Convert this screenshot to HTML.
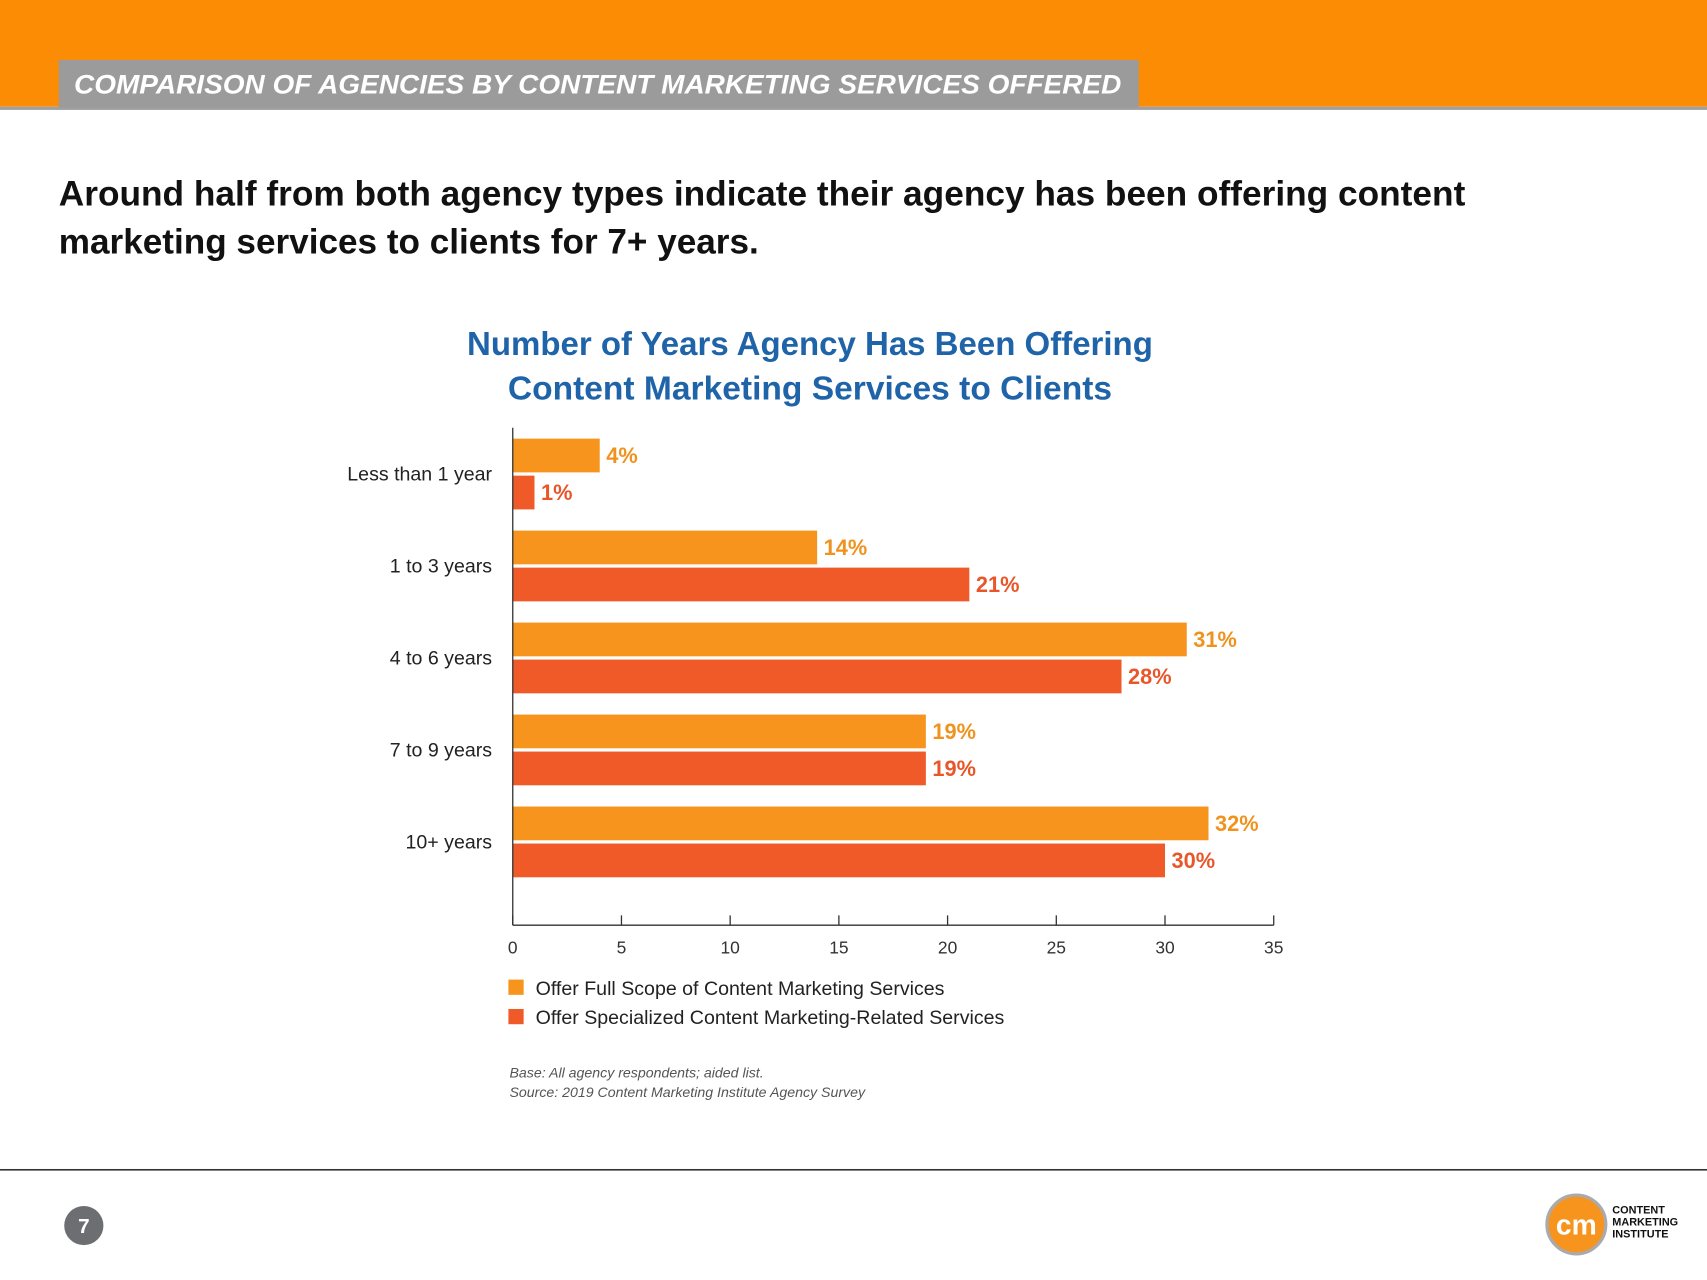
<!DOCTYPE html>
<html><head><meta charset="utf-8">
<style>
html,body{margin:0;padding:0;background:#fff;width:1707px;height:1280px;overflow:hidden}
svg{display:block}
text{font-family:"Liberation Sans",sans-serif}
</style></head>
<body>
<svg id="chart" width="1707" height="1280" viewBox="0 0 1568 1176" preserveAspectRatio="none" xmlns="http://www.w3.org/2000/svg">
  <rect x="0" y="0" width="1568" height="98" fill="#fd8c05"/>
  <rect x="0" y="98" width="1568" height="3" fill="#a0a0a0"/>
  <rect x="54" y="55" width="992" height="44" fill="#9b9b9b"/>
  <text x="68" y="86" fill="#fff" font-size="25" font-weight="bold" font-style="italic" textLength="962" lengthAdjust="spacingAndGlyphs">COMPARISON OF AGENCIES BY CONTENT MARKETING SERVICES OFFERED</text>
  <text x="54" y="189" font-size="32" font-weight="bold" fill="#111" textLength="1292" lengthAdjust="spacingAndGlyphs">Around half from both agency types indicate their agency has been offering content</text>
  <text x="54" y="233" font-size="32" font-weight="bold" fill="#111" textLength="643" lengthAdjust="spacingAndGlyphs">marketing services to clients for 7+ years.</text>
  <text x="744" y="326" text-anchor="middle" font-size="31" font-weight="bold" fill="#1f64a8" textLength="630" lengthAdjust="spacingAndGlyphs">Number of Years Agency Has Been Offering</text>
  <text x="744" y="367" text-anchor="middle" font-size="31" font-weight="bold" fill="#1f64a8" textLength="555" lengthAdjust="spacingAndGlyphs">Content Marketing Services to Clients</text>
  <g id="plot"></g>
  <rect x="467" y="900" width="14" height="14" fill="#f7941d"/>
  <text x="492" y="914" font-size="18" fill="#222">Offer Full Scope of Content Marketing Services</text>
  <rect x="467" y="927" width="14" height="14" fill="#f05a28"/>
  <text x="492" y="941" font-size="18" fill="#222">Offer Specialized Content Marketing-Related Services</text>
  <text x="468" y="990" font-size="13" font-style="italic" fill="#555">Base: All agency respondents; aided list.</text>
  <text x="468" y="1008" font-size="13" font-style="italic" fill="#555">Source: 2019 Content Marketing Institute Agency Survey</text>
  <rect x="0" y="1074" width="1568" height="1.5" fill="#333"/>
  <circle cx="77" cy="1126" r="18" fill="#6d6e71"/>
  <text x="77" y="1133" text-anchor="middle" font-size="19" font-weight="bold" fill="#fff">7</text>
  <g>
    <circle cx="1448" cy="1125" r="27" fill="#f7941d" stroke="#aaa" stroke-width="3"/>
    <text x="1448" y="1134" text-anchor="middle" font-size="26" font-weight="bold" fill="#fff">cm</text>
    <text x="1481" y="1115" font-size="10" font-weight="bold" fill="#111">CONTENT</text>
    <text x="1481" y="1126" font-size="10" font-weight="bold" fill="#111">MARKETING</text>
    <text x="1481" y="1137" font-size="10" font-weight="bold" fill="#111">INSTITUTE</text>
  </g>
</svg>
<script>
const categories = ["Less than 1 year","1 to 3 years","4 to 6 years","7 to 9 years","10+ years"];
const fullScope = [4,14,31,19,32];
const specialized = [1,21,28,19,30];
const ticks = [0,5,10,15,20,25,30,35];

const NS="http://www.w3.org/2000/svg";
const plot=document.getElementById('plot');
const X0=471, X1=1170, XMAX=35, AX_TOP=393, AX_BOT=850;
const GROUP_TOP=403, GROUP_STEP=84.5, BAR_H=31, GAP=3;
const xs=v=>X0+(v/XMAX)*(X1-X0);
function mk(tag,attrs){const e=document.createElementNS(NS,tag);for(const k in attrs)e.setAttribute(k,attrs[k]);plot.appendChild(e);return e;}

categories.forEach((c,i)=>{
  const top=GROUP_TOP+i*GROUP_STEP;
  const b1=mk('rect',{x:X0,y:top,width:xs(fullScope[i])-X0,height:BAR_H,fill:'#f7941d'});
  
  
  const b2=mk('rect',{x:X0,y:top+BAR_H+GAP,width:xs(specialized[i])-X0,height:BAR_H,fill:'#f05a28'});
  
  
  const l1=mk('text',{x:xs(fullScope[i])+6,y:top+BAR_H/2+7,'font-size':20,'font-weight':'bold',fill:'#f0921e'});
  l1.textContent=fullScope[i]+'%';
  
  
  const l2=mk('text',{x:xs(specialized[i])+6,y:top+BAR_H+GAP+BAR_H/2+7,'font-size':20,'font-weight':'bold',fill:'#e8562a'});
  l2.textContent=specialized[i]+'%';
  
  
  const cl=mk('text',{x:452,y:top+BAR_H+GAP/2+6,'text-anchor':'end','font-size':18,fill:'#222'});
  cl.textContent=c;
  
  
});
const ya=mk('line',{x1:X0,y1:AX_TOP,x2:X0,y2:AX_BOT,stroke:'#333','stroke-width':1.2});


const xa=mk('line',{x1:X0,y1:AX_BOT,x2:X1,y2:AX_BOT,stroke:'#333','stroke-width':1.2});


ticks.forEach(t=>{
  const tk=mk('line',{x1:xs(t),y1:AX_BOT-9,x2:xs(t),y2:AX_BOT,stroke:'#333','stroke-width':1.2});
  
  
  const tl=mk('text',{x:xs(t),y:AX_BOT+26,'text-anchor':'middle','font-size':16,fill:'#333'});
  tl.textContent=t;
  
  
});
</script>
</body></html>
